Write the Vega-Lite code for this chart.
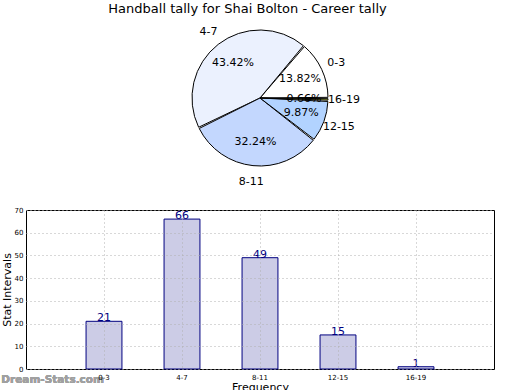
{
  "$schema": "https://vega.github.io/schema/vega-lite/v6.json",
  "padding": {"left": 0, "top": 3, "right": 0, "bottom": 0},
  "title": {"text": "Handball tally for Shai Bolton - Career tally", "fontSize": 13, "font": "DejaVu Sans", "fontWeight": "normal", "offset": 4, "color": "black", "anchor": "middle"},
  "config": {"font": "DejaVu Sans"},
  "data": {"values": [
    {"interval": "0-3", "lo": 0, "count": 21, "pct": "13.82%"},
    {"interval": "4-7", "lo": 4, "count": 66, "pct": "43.42%"},
    {"interval": "8-11", "lo": 8, "count": 49, "pct": "32.24%"},
    {"interval": "12-15", "lo": 12, "count": 15, "pct": "9.87%"},
    {"interval": "16-19", "lo": 16, "count": 1, "pct": "0.66%"}
  ]},
  "spacing": 18,
  "vconcat": [
    {
      "width": 468,
      "height": 156,
      "view": {"stroke": null},
      "encoding": {
        "theta": {"field": "count", "type": "quantitative", "stack": true, "scale": {"range": [1.5708, -4.7124]}},
        "order": {"field": "lo", "type": "quantitative"}
      },
      "layer": [
        {
          "mark": {"type": "arc", "outerRadius": 68, "stroke": "black", "strokeWidth": 1, "padAngle": 0.02},
          "encoding": {
            "color": {"field": "interval", "type": "nominal", "legend": null,
              "scale": {"domain": ["0-3", "4-7", "8-11", "12-15", "16-19"], "range": ["#ffffff", "#ebf1fe", "#c3d7fe", "#b2d3ff", "#c8d44a"]}}
          }
        },
        {
          "mark": {"type": "text", "radius": 84, "fontSize": 11, "color": "black"},
          "encoding": {"text": {"field": "interval", "type": "nominal"}}
        },
        {
          "mark": {"type": "text", "radius": 44, "fontSize": 11, "color": "black"},
          "encoding": {"text": {"field": "pct", "type": "nominal"}}
        }
      ]
    },
    {
      "width": 468,
      "height": 159,
      "view": {"stroke": "black", "strokeWidth": 1},
      "encoding": {
        "x": {"field": "interval", "type": "ordinal", "sort": ["0-3", "4-7", "8-11", "12-15", "16-19"],
          "scale": {"paddingInner": 0.54, "paddingOuter": 0.77},
          "axis": {"title": "Frequency", "titleFontSize": 11, "titleFontWeight": "normal", "titlePadding": 1, "labelFontSize": 7, "labelAngle": 0, "labelPadding": 4, "labelColor": "black", "ticks": false, "domain": false,
            "grid": true, "gridColor": "#b0b0b0", "gridDash": [1, 3], "gridOpacity": 1, "zindex": 1, "bandPosition": 0.5}},
        "y": {"field": "count", "type": "quantitative", "scale": {"domain": [0, 70]},
          "axis": {"title": "Stat Intervals", "titleFontSize": 11, "titleFontWeight": "normal", "titlePadding": 2, "labelFontSize": 7, "labelPadding": 3, "labelColor": "black", "ticks": false, "domain": false,
            "values": [0, 10, 20, 30, 40, 50, 60, 70], "grid": true, "gridColor": "#b0b0b0", "gridDash": [1, 3], "gridOpacity": 1, "zindex": 1}}
      },
      "layer": [
        {"mark": {"type": "bar", "fill": "#ccccE6", "stroke": "#000080", "strokeWidth": 1}},
        {"mark": {"type": "text", "baseline": "bottom", "dy": 2, "color": "#000080", "fontSize": 11},
          "encoding": {"text": {"field": "count", "type": "quantitative"}}},
        {"mark": {"type": "text", "align": "right", "baseline": "middle", "dy": 11, "fontSize": 10.5, "fontWeight": "bold", "color": "#a0a0a0", "text": "Dream-Stats.com"},
          "encoding": {"x": {"datum": "0-3"}, "y": {"datum": 0}}}
      ]
    }
  ]
}
